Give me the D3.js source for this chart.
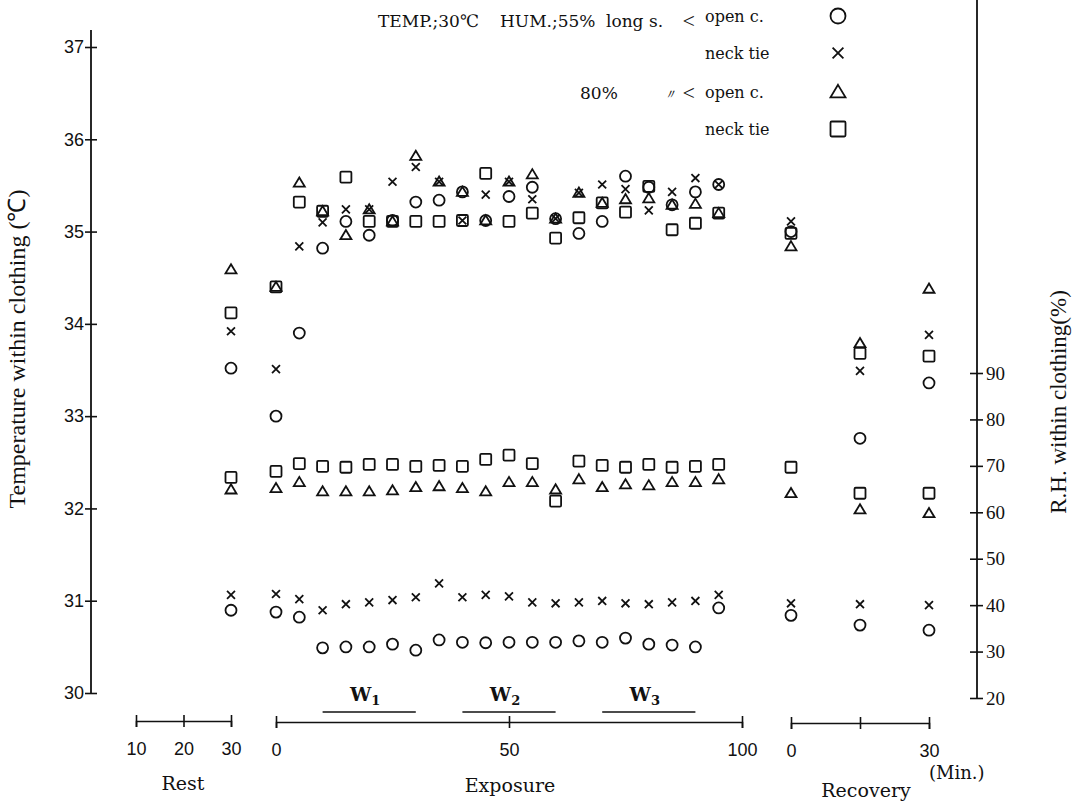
<!DOCTYPE html>
<html>
<head>
<meta charset="utf-8">
<script src="https://cdn.jsdelivr.net/npm/d3@7"></script>
<style>
	body { margin: 0; background: #fff; }
	text { font-family: "DejaVu Serif", "Liberation Serif", serif; fill: #111; }
	.num { font-family: "Liberation Sans", sans-serif; font-size: 18px; }
	.serif { font-family: "Liberation Serif", serif; }
</style>
</head>
<body>
<svg id="chart" width="1082" height="802"></svg>
<script>
// sampling times (min) for each phase
const restMin = [30];
const exposureMin = [0, 5, 10, 15, 20, 25, 30, 35, 40, 45, 50, 55, 60, 65, 70, 75, 80, 85, 90, 95];
const recoveryMin = [0, 15, 30];

// temperature within clothing (deg C), order: rest, exposure, recovery
const tempOpen55 = [33.52,
	33.00, 33.90, 34.82, 35.11, 34.96, 35.12, 35.32, 35.34, 35.43, 35.12,
	35.38, 35.48, 35.14, 34.98, 35.11, 35.60, 35.48, 35.29, 35.43, 35.51,
	35.00, 32.76, 33.36];
const tempNeck55 = [33.92,
	33.51, 34.84, 35.10, 35.24, 35.24, 35.54, 35.70, 35.54, 35.12, 35.40,
	35.54, 35.35, 35.14, 35.42, 35.51, 35.46, 35.23, 35.43, 35.58, 35.51,
	35.11, 33.49, 33.88];
const tempOpen80 = [34.59,
	34.40, 35.53, 35.22, 34.96, 35.24, 35.11, 35.82, 35.54, 35.43, 35.12,
	35.54, 35.62, 35.14, 35.42, 35.31, 35.35, 35.36, 35.29, 35.30, 35.20,
	34.84, 33.79, 34.38];
const tempNeck80 = [34.12,
	34.40, 35.32, 35.22, 35.59, 35.11, 35.11, 35.11, 35.11, 35.12, 35.63,
	35.11, 35.20, 34.93, 35.15, 35.31, 35.21, 35.49, 35.02, 35.09, 35.20,
	34.98, 33.68, 33.65];

// R.H. within clothing (%)
const rhOpen55 = [38.9,
	38.5, 37.4, 30.8, 31.0, 31.0, 31.6, 30.3, 32.5, 32.0, 31.9,
	32.0, 32.0, 32.0, 32.3, 32.0, 32.9, 31.6, 31.4, 31.0, 39.4,
	37.8, 35.7, 34.6];
const rhNeck55 = [42.2,
	42.4, 41.3, 38.9, 40.2, 40.6, 41.1, 41.7, 44.7, 41.7, 42.2,
	41.9, 40.6, 40.4, 40.6, 40.9, 40.4, 40.2, 40.6, 40.9, 42.2,
	40.4, 40.2, 40.0];
const rhOpen80 = [64.9,
	65.2, 66.5, 64.5, 64.5, 64.5, 64.7, 65.4, 65.6, 65.2, 64.5,
	66.5, 66.5, 64.9, 67.1, 65.4, 66.0, 65.8, 66.5, 66.5, 67.1,
	64.1, 60.6, 59.8];
const rhNeck80 = [67.5,
	68.8, 70.5, 69.9, 69.7, 70.3, 70.3, 69.9, 70.1, 69.9, 71.4,
	72.3, 70.5, 62.4, 71.0, 70.1, 69.7, 70.3, 69.7, 69.9, 70.3,
	69.7, 64.1, 64.1];

const tempTicks = [30, 31, 32, 33, 34, 35, 36, 37];
const rhTicks = [20, 30, 40, 50, 60, 70, 80, 90];
const workStart = [10, 40, 70];
const workEnd = [30, 60, 90];
const workNames = ["1", "2", "3"];

const svg = d3.select("#chart");

const xRest = d3.scaleLinear().domain([10, 30]).range([136, 231]);
const xExp = d3.scaleLinear().domain([0, 100]).range([276, 742]);
const xRec = d3.scaleLinear().domain([0, 30]).range([791, 929]);
const yTemp = d3.scaleLinear().domain([30, 37]).range([693, 47]);
const yRH = d3.scaleLinear().domain([20, 90]).range([698, 373]);

const sampleX = [
	...restMin.map(t => xRest(t)),
	...exposureMin.map(t => xExp(t)),
	...recoveryMin.map(t => xRec(t))
];

function drawShape(g, shape, size) {
	const s = size / 2;
	if (shape === "circle") {
		g.append("circle").attr("r", s);
	} else if (shape === "square") {
		g.append("rect").attr("x", -s).attr("y", -s).attr("width", size).attr("height", size).attr("rx", 1.2);
	} else if (shape === "triangle") {
		g.append("path").attr("d", `M0,${-s * 0.95}L${s},${s * 0.72}L${-s},${s * 0.72}Z`);
	} else {
		const c = s * 0.72;
		g.append("path").attr("d", `M${-c},${-c}L${c},${c}M${c},${-c}L${-c},${c}`);
	}
	g.attr("fill", "none").attr("stroke", "#111").attr("stroke-width", 1.8);
}

// left temperature axis
const leftAxis = svg.append("g")
	.attr("transform", "translate(91,0)")
	.call(d3.axisLeft(yTemp).tickValues(tempTicks).tickFormat(d3.format("d")).tickSizeOuter(0).tickSize(6).tickPadding(1));
leftAxis.select(".domain").remove();
leftAxis.selectAll(".tick line").attr("x1", 6).attr("stroke", "#111").attr("stroke-width", 1.6);
leftAxis.selectAll(".tick text").attr("class", "num").attr("font-size", null).attr("font-family", null).attr("fill", "#111");
svg.append("line").attr("x1", 91).attr("x2", 91).attr("y1", 30).attr("y2", yTemp(30))
	.attr("stroke", "#111").attr("stroke-width", 1.8);

// right R.H. axis
const rightAxis = svg.append("g")
	.attr("transform", "translate(977,0)")
	.call(d3.axisRight(yRH).tickValues(rhTicks).tickSizeOuter(0).tickSize(6).tickPadding(3));
rightAxis.select(".domain").remove();
rightAxis.selectAll(".tick line").attr("x1", -7).attr("stroke", "#111").attr("stroke-width", 1.6);
rightAxis.selectAll(".tick text").attr("class", "serif").attr("font-size", 19).attr("font-family", null).attr("fill", "#111");
svg.append("line").attr("x1", 977).attr("x2", 977).attr("y1", 0).attr("y2", yRH(20))
	.attr("stroke", "#111").attr("stroke-width", 1.8);

// bottom time axes
function timeAxis(scale, ticks, y, fmt) {
	const g = svg.append("g")
		.attr("transform", `translate(0,${y})`)
		.call(d3.axisBottom(scale).tickValues(ticks).tickSizeOuter(0).tickSize(6).tickPadding(15).tickFormat(fmt));
	g.select(".domain").attr("stroke", "#111").attr("stroke-width", 1.6);
	g.selectAll(".tick line").attr("y1", -6).attr("stroke", "#111").attr("stroke-width", 1.6);
	g.selectAll(".tick text").attr("class", "num").attr("font-size", null).attr("font-family", null).attr("fill", "#111");
	return g;
}
timeAxis(xRest, [10, 20, 30], 721, d3.format("d"));
timeAxis(xExp, [0, 50, 100], 722, d3.format("d"));
timeAxis(xRec, [0, 15, 30], 723, d => d === 15 ? "" : d);

// work periods
workStart.forEach((s, i) => {
	svg.append("line")
		.attr("x1", xExp(s)).attr("x2", xExp(workEnd[i]))
		.attr("y1", 712).attr("y2", 712)
		.attr("stroke", "#111").attr("stroke-width", 1.6);
	const t = svg.append("text")
		.attr("x", (xExp(s) + xExp(workEnd[i])) / 2 - 4).attr("y", 701)
		.attr("text-anchor", "middle").attr("font-size", 19).attr("font-weight", "bold")
		.text("W");
	t.append("tspan").attr("font-size", 13).attr("dy", 4).text(workNames[i]);
});

// phase labels
[["Rest", 183, 790], ["Exposure", 510, 792], ["Recovery", 866, 797]].forEach(d => {
	svg.append("text").attr("x", d[1]).attr("y", d[2]).attr("text-anchor", "middle")
		.attr("font-size", 19).text(d[0]);
});
svg.append("text").attr("x", 929).attr("y", 779).attr("font-size", 18).text("(Min.)");

// axis titles
svg.append("text")
	.attr("class", "serif")
	.attr("transform", "translate(25,349) rotate(-90)")
	.attr("text-anchor", "middle").attr("font-size", 24)
	.text("Temperature within clothing (℃)");
svg.append("text")
	.attr("class", "serif")
	.attr("transform", "translate(1066,402) rotate(-90)")
	.attr("text-anchor", "middle").attr("font-size", 23)
	.text("R.H. within clothing(%)");

// data points
const series = [
	{ values: tempOpen55, y: yTemp, shape: "circle" },
	{ values: tempNeck55, y: yTemp, shape: "cross" },
	{ values: tempOpen80, y: yTemp, shape: "triangle" },
	{ values: tempNeck80, y: yTemp, shape: "square" },
	{ values: rhOpen55, y: yRH, shape: "circle" },
	{ values: rhNeck55, y: yRH, shape: "cross" },
	{ values: rhOpen80, y: yRH, shape: "triangle" },
	{ values: rhNeck80, y: yRH, shape: "square" }
];
const markers = svg.append("g").attr("class", "markers");
series.forEach(s => {
	markers.selectAll(null)
		.data(s.values)
		.enter()
		.append("g")
		.attr("transform", (d, i) => `translate(${sampleX[i]},${s.y(d)})`)
		.each(function () { drawShape(d3.select(this), s.shape, 11); });
});

// legend
const legend = svg.append("g").attr("class", "legend");
const legendHead = [["TEMP.;30℃", 378, 27], ["HUM.;55%", 500, 27], ["long s.", 606, 27], ["80%", 580, 99]];
legendHead.forEach(d => {
	legend.append("text").attr("x", d[1]).attr("y", d[2]).attr("font-size", 17).text(d[0]);
});
legend.append("text").attr("x", 663).attr("y", 99).attr("font-size", 14).attr("font-style", "italic").text("〃");
legend.append("text").attr("class", "serif").attr("x", 695).attr("y", 28).attr("text-anchor", "end").attr("font-size", 22).text("<");
legend.append("text").attr("class", "serif").attr("x", 695).attr("y", 100).attr("text-anchor", "end").attr("font-size", 22).text("<");
const legendNames = ["open c.", "neck tie", "open c.", "neck tie"];
const legendShapes = ["circle", "cross", "triangle", "square"];
const legendY = [16, 53, 92, 129];
legendNames.forEach((n, i) => {
	legend.append("text").attr("x", 705).attr("y", legendY[i] + 6).attr("font-size", 16).text(n);
	const g = legend.append("g").attr("transform", `translate(838,${legendY[i]})`);
	drawShape(g, legendShapes[i], 15);
});
</script>
</body>
</html>
